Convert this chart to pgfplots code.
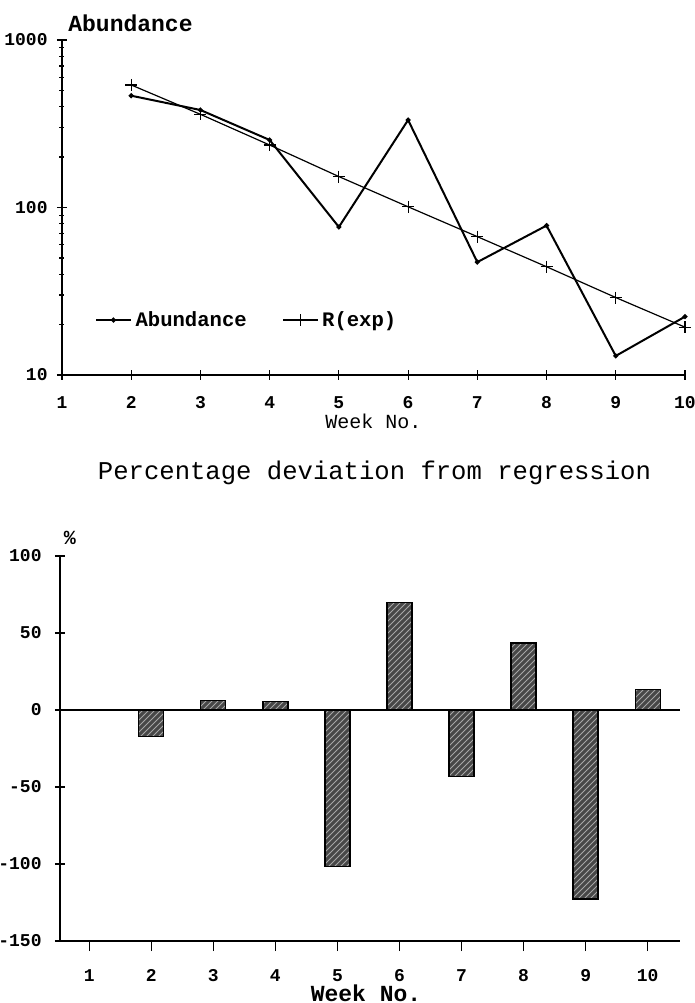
\documentclass[border=0pt]{standalone}
\usepackage{fontspec}
\setmainfont{Liberation Mono}
\setmonofont{Liberation Mono}
\usepackage{pgfplots}
\pgfplotsset{compat=1.18}
\usetikzlibrary{patterns}

\pgfplotstableread{
week abund rexp
2 465 539
3 382 360
4 253 236
5 76.5 153
6 333 101
7 47.2 67
8 78 44.3
9 13 29
10 22.3 19.3
}\topdata

\pgfplotstableread{
week dev
2 -17.2
3 6.2
4 5.6
5 -101.7
6 69.7
7 -43
8 43.4
9 -122.8
10 13.4
}\botdata

\begin{document}
\begin{tikzpicture}
\useasboundingbox (0,0) rectangle (347.5pt,501.5pt);
% ---------------- top chart ----------------
\begin{axis}[
  at={(31pt,314pt)}, anchor=south west,
  scale only axis, width=311.5pt, height=167.5pt,
  xmin=1, xmax=10, ymin=10, ymax=1000, ymode=log,
  axis lines=left, axis line style={-, line width=0.7pt},
  xtick={1,2,3,4,5,6,7,8,9,10},
  xticklabels={1,2,3,4,5,6,7,8,9,10},
  ytick={10,100,1000}, yticklabels={10,100,1000},
  minor ytick={20,30,40,50,60,70,80,90,200,300,400,500,600,700,800,900},
  tick align=center, major tick length=5pt, minor tick length=2.5pt,
  tick style={line width=0.6pt, black},
  xticklabel style={anchor=base, inner sep=0pt, yshift=-14.5pt, font=\fontsize{9}{10}\selectfont\bfseries},
  yticklabel style={anchor=east, inner sep=0pt, xshift=-4.5pt, font=\fontsize{9}{10}\selectfont\bfseries},
  xlabel={Week No.},
  xlabel style={at={(axis description cs:0.5,0)}, anchor=base, inner sep=0pt, yshift=-27pt, font=\fontsize{10}{11}\selectfont},
  ylabel={Abundance},
  ylabel style={rotate=-90, at={(axis description cs:0,1)}, anchor=west, inner sep=0pt, xshift=3pt, yshift=8.5pt, font=\fontsize{11.5}{12}\selectfont\bfseries},
  legend style={at={(axis description cs:0.053,0.164)}, anchor=west, draw=none, fill=none, inner sep=0pt,
    font=\fontsize{10.3}{11}\selectfont\bfseries},
  legend columns=2,
  legend cell align=left,
  /tikz/every even column/.append style={column sep=16pt},
  clip=false,
]
\addplot[black, line width=1pt, mark=*, mark size=0.7pt] table[x=week, y=abund] {\topdata};
\addlegendentry{Abundance}
\addplot[black, line width=0.6pt, mark=+, mark size=3pt, mark options={line width=0.6pt}] table[x=week, y=rexp] {\topdata};
\addlegendentry{R(exp)}
\end{axis}
% ---------------- bottom chart ----------------
\begin{axis}[
  at={(30pt,31pt)}, anchor=south west,
  scale only axis, width=310pt, height=192.5pt,
  xmin=0.53, xmax=10.52, ymin=-150, ymax=100,
  axis lines=left, axis line style={-, line width=0.7pt},
  xtick={1,2,3,4,5,6,7,8,9,10},
  xticklabels={1,2,3,4,5,6,7,8,9,10},
  ytick={-150,-100,-50,0,50,100}, yticklabels={-150,-100,-50,0,50,100},
  tick align=center, major tick length=5pt,
  tick style={line width=0.6pt, black},
  xticklabel style={anchor=base, inner sep=0pt, yshift=-15pt, font=\fontsize{9}{10}\selectfont\bfseries},
  yticklabel style={anchor=east, inner sep=0pt, xshift=-6.5pt, font=\fontsize{9}{10}\selectfont\bfseries},
  xlabel={Week No.},
  xlabel style={at={(axis description cs:0.5,0)}, anchor=base, inner sep=0pt, yshift=-30pt, xshift=-2pt, font=\fontsize{11.5}{12}\selectfont\bfseries},
  ylabel={\%},
  ylabel style={rotate=-90, at={(axis description cs:0,1)}, anchor=center, inner sep=0pt, xshift=5pt, yshift=9pt, font=\fontsize{10}{11}\selectfont\bfseries},
  title={Percentage deviation from regression},
  title style={at={(axis description cs:0.5,1)}, anchor=center, yshift=35.5pt, xshift=2.25pt, font=\fontsize{12.8}{14}\selectfont},
  ybar, bar width=12.5pt,
  clip=false,
]
\addplot[draw=black, line width=0.7pt, fill=black!72,
  postaction={pattern=north east lines, pattern color=white!65!black}] table[x=week, y=dev] {\botdata};
\draw[line width=0.7pt] (axis cs:0.53,0) -- (axis cs:10.52,0);
\end{axis}
\end{tikzpicture}
\end{document}
